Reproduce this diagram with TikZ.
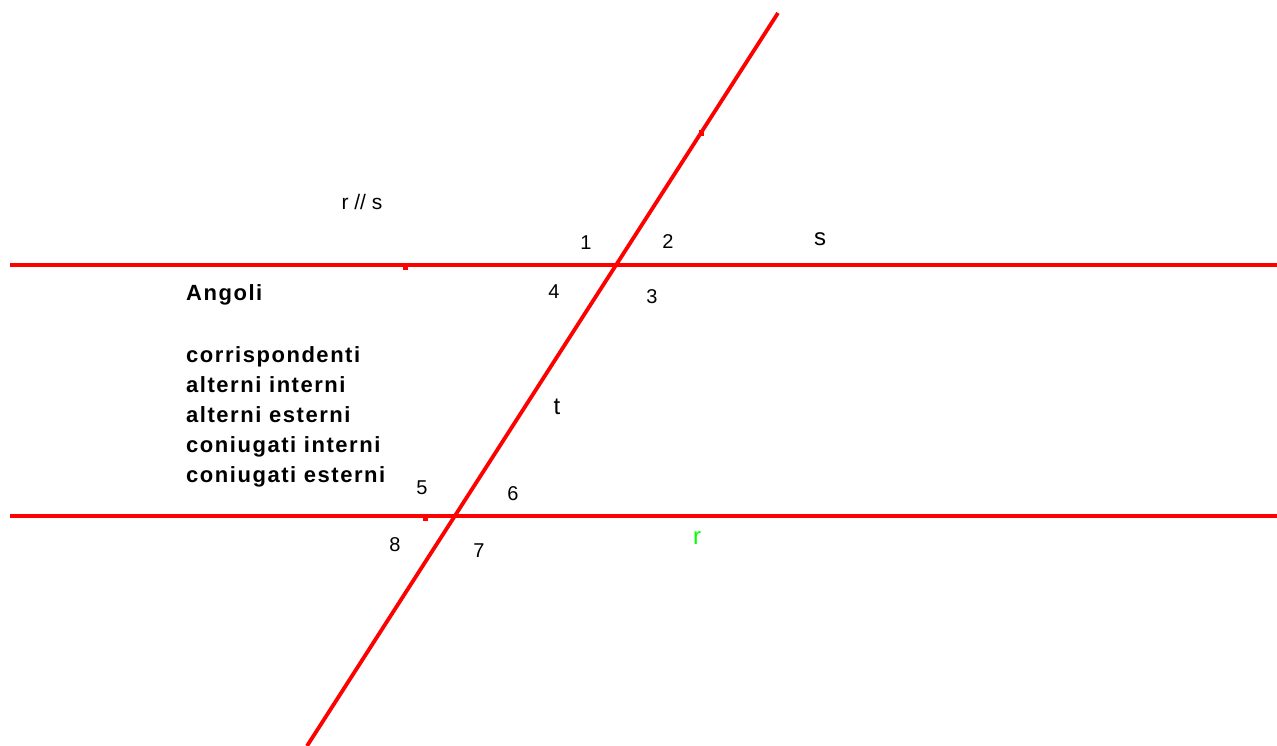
\documentclass[tikz,border=0pt]{standalone}
\usepackage{fontspec}
\setmainfont{Liberation Sans}
\newfontfamily\spaced[LetterSpace=7]{Liberation Sans}
\begin{document}
\begin{tikzpicture}[x=1pt,y=-1pt,
  redline/.style={draw=red,line width=3.8pt},
  num/.style={font=\fontsize{20}{24}\selectfont,inner sep=0pt},
  bigl/.style={font=\fontsize{24}{28}\selectfont,inner sep=0pt},
  lbl/.style={font=\spaced\bfseries\fontsize{22}{28}\selectfont,inner sep=0pt,anchor=base west},
  tick/.style={fill=red,draw=none}]
\useasboundingbox (0,0) rectangle (1277,746);
\fill[white] (0,0) rectangle (1277,746);
% lines
\coordinate (sL) at (10,265);
\coordinate (sR) at (1277,265);
\coordinate (rL) at (10,516);
\coordinate (rR) at (1277,516);
\coordinate (tT) at (778,13);
\coordinate (tB) at (307,746);
\draw[redline] (sL) -- (sR);
\draw[redline] (rL) -- (rR);
\draw[redline] (tT) -- (tB);
% small point marks
\fill[tick] (403,265) rectangle (408,269.5);
\fill[tick] (423,516) rectangle (428,520.5);
\fill[tick] (699,130) rectangle (704,136);
% labels
\node[font=\fontsize{21}{24}\selectfont,inner sep=0pt] (rs) at (362,202) {r // s};
\node[num] (n1) at (586,243) {1};
\node[num] (n2) at (668,242) {2};
\node[bigl] (ls) at (820,239) {s};
\node[num] (n4) at (554,292) {4};
\node[num] (n3) at (652,297) {3};
\node[bigl] (lt) at (557,407) {t};
\node[num] (n5) at (422,488) {5};
\node[num] (n6) at (513,494) {6};
\node[num] (n8) at (395,545) {8};
\node[num] (n7) at (479,551) {7};
\node[bigl,text=green] (lr) at (697,538) {r};
\node[lbl] (ang) at (186,300) {Angoli};
\node[lbl] (c1) at (186,362) {corrispondenti};
\node[lbl] (c2) at (186,392) {alterni interni};
\node[lbl] (c3) at (186,422) {alterni esterni};
\node[lbl] (c4) at (186,452) {coniugati interni};
\node[lbl] (c5) at (186,482) {coniugati esterni};
\end{tikzpicture}
\end{document}
